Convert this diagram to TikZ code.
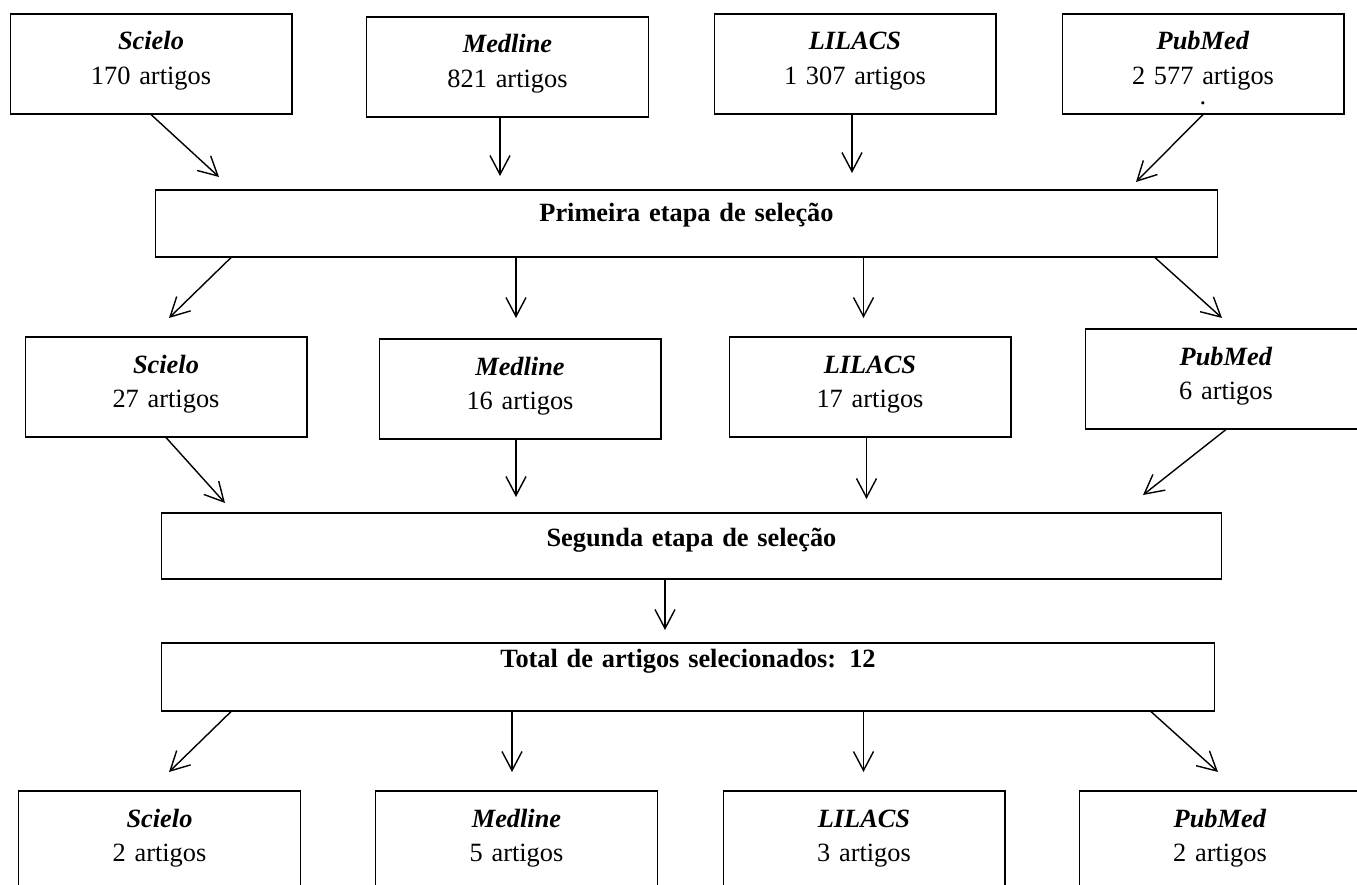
\documentclass[tikz,border=0pt]{standalone}
\usepackage{fontspec}
\setmainfont{Liberation Serif}
\usetikzlibrary{arrows.meta}
\begin{document}
\begin{tikzpicture}[
    x=0.02cm, y=-0.02cm,
    srcbox/.style={
        draw=black,
        line width=0.6pt,
        inner xsep=0pt,
        inner ysep=0pt,
        text width=5.64cm,
        align=center,
        text height=0.72cm,
        text depth=1.28cm,
        font=\fontsize{15pt}{19.4pt}\selectfont
    },
    stagebox/.style={srcbox, font=\fontsize{15pt}{19.4pt}\selectfont\bfseries},
    arr/.style={line width=0.8pt, -{Straight Barb[length=3.8mm, width=4mm]}}
]
\useasboundingbox (0,0) rectangle (1357,885);
\clip (0,0) rectangle (1357,885);

% Databases - initial search
\node[srcbox] (sc1) at (151, 64) {\textbf{\textit{Scielo}}\\170 artigos};
\node[srcbox] (md1) at (507.5, 67) {\textbf{\textit{Medline}}\\821 artigos};
\node[srcbox] (li1) at (855, 64) {\textbf{\textit{LILACS}}\\1 307 artigos};
\node[srcbox] (pm1) at (1203, 64) {\textbf{\textit{PubMed}}\\2 577 artigos\\[-7.5pt].};

% First selection stage
\node[stagebox, text width=21.26cm, text height=0.63cm, text depth=0.71cm] (prim) at (686.5, 223.5) {Primeira etapa de seleção};

% Databases - after first stage
\node[srcbox] (sc2) at (166, 387) {\textbf{\textit{Scielo}}\\27 artigos};
\node[srcbox] (md2) at (520, 389) {\textbf{\textit{Medline}}\\16 artigos};
\node[srcbox] (li2) at (870, 387) {\textbf{\textit{LILACS}}\\17 artigos};
\node[srcbox] (pm2) at (1226, 379) {\textbf{\textit{PubMed}}\\6 artigos};

% Second selection stage and total
\node[stagebox, text width=21.2cm, text height=0.66cm, text depth=0.66cm] (seg) at (691.5, 546) {Segunda etapa de seleção};
\node[stagebox, text width=21.08cm, text height=0.48cm, text depth=0.88cm] (tot) at (688, 677) {Total de artigos selecionados: 12};

% Databases - final selection
\node[srcbox] (sc3) at (159.5, 841) {\textbf{\textit{Scielo}}\\2 artigos};
\node[srcbox] (md3) at (516.5, 841) {\textbf{\textit{Medline}}\\5 artigos};
\node[srcbox] (li3) at (864, 841) {\textbf{\textit{LILACS}}\\3 artigos};
\node[srcbox] (pm3) at (1220, 841) {\textbf{\textit{PubMed}}\\2 artigos};

% Arrow tips
\coordinate (t1a) at (219, 177);
\coordinate (t1b) at (500, 176);
\coordinate (t1c) at (852, 173);
\coordinate (t1d) at (1136, 182);
\coordinate (t2a) at (169, 318);
\coordinate (t2b) at (516, 318);
\coordinate (t2c) at (863.5, 318);
\coordinate (t2d) at (1222, 318);
\coordinate (t3a) at (225, 503);
\coordinate (t3b) at (516, 497);
\coordinate (t3c) at (866.5, 499);
\coordinate (t3d) at (1143, 495);
\coordinate (t4) at (665, 630);
\coordinate (t5a) at (169, 772);
\coordinate (t5b) at (512, 772);
\coordinate (t5c) at (863.5, 772);
\coordinate (t5d) at (1218, 772);

% Into first stage
\draw[arr] (sc1.south) -- (t1a);
\draw[arr] (md1.south -| t1b) -- (t1b);
\draw[arr] (li1.south -| t1c) -- (t1c);
\draw[arr] (pm1.south) -- (t1d);

% Out of first stage
\draw[arr] ([xshift=-9.11cm]prim.south) -- (t2a);
\draw[arr] (prim.south -| t2b) -- (t2b);
\draw[arr] (prim.south -| t2c) -- (t2c);
\draw[arr] ([xshift=9.37cm]prim.south) -- (t2d);

% Into second stage
\draw[arr] (sc2.south) -- (t3a);
\draw[arr] (md2.south -| t3b) -- (t3b);
\draw[arr] (li2.south -| t3c) -- (t3c);
\draw[arr] (pm2.south) -- (t3d);

\draw[arr] (seg.south -| t4) -- (t4);

% Out of total
\draw[arr] ([xshift=-9.14cm]tot.south) -- (t5a);
\draw[arr] (tot.south -| t5b) -- (t5b);
\draw[arr] (tot.south -| t5c) -- (t5c);
\draw[arr] ([xshift=9.26cm]tot.south) -- (t5d);

\end{tikzpicture}
\end{document}
